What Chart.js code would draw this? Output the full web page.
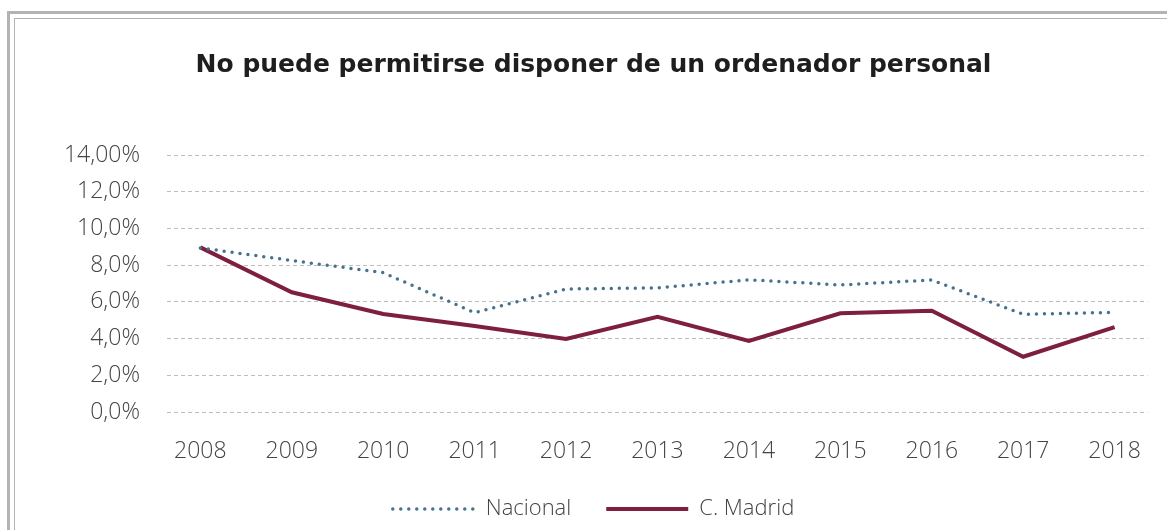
<!DOCTYPE html>
<html>
<head>
<meta charset="utf-8">
<script src="https://cdn.jsdelivr.net/npm/chart.js@4"></script>
<style>
  html, body { margin: 0; padding: 0; background: #fff; }
  #wrap { position: relative; width: 1167px; height: 530px; overflow: hidden; }
  #wrap canvas { position: absolute; left: 0; top: 0; }
  .frame-outer {
    position: absolute; left: 7px; top: 11px; width: 1300px; height: 700px;
    border-top: 3px solid #b3b3b3; border-left: 3px solid #b3b3b3;
  }
  .frame-inner {
    position: absolute; left: 14px; top: 18px; width: 1300px; height: 700px;
    border-top: 1px solid #b3b3b3; border-left: 1px solid #b3b3b3;
  }
</style>
</head>
<body>
<div id="wrap">
  <div class="frame-outer"></div>
  <div class="frame-inner"></div>
  <canvas id="chart" width="1167" height="530"></canvas>
</div>
<script>
const years = [2008, 2009, 2010, 2011, 2012, 2013, 2014, 2015, 2016, 2017, 2018];
const nacional = [8.94, 8.25, 7.59, 5.41, 6.70, 6.76, 7.20, 6.92, 7.19, 5.32, 5.43];
const madrid = [8.97, 6.52, 5.34, 4.69, 3.98, 5.18, 3.87, 5.38, 5.52, 3.01, 4.62];
const yTicks = [0, 2, 4, 6, 8, 10, 12, 14];
const yTickLabels = ["0,0%", "2,0%", "4,0%", "6,0%", "8,0%", "10,0%", "12,0%", "14,00%"];

const LIGHT = "'Open Sans', sans-serif";

new Chart(document.getElementById("chart"), {
  type: "line",
  data: {
    datasets: [
      {
        label: "Nacional",
        data: years.map((y, i) => ({ x: y, y: nacional[i] })),
        borderColor: "#46728c",
        borderWidth: 3.5,
        borderDash: [0, 8],
        borderCapStyle: "round",
        pointRadius: 0,
        tension: 0,
      },
      {
        label: "C. Madrid",
        data: years.map((y, i) => ({ x: y, y: madrid[i] })),
        borderColor: "#7e1f42",
        borderWidth: 4,
        borderCapStyle: "butt",
        pointRadius: 0,
        tension: 0,
      },
    ],
  },
  options: {
    responsive: false,
    animation: false,
    layout: { padding: { left: 24, right: 4, top: 0, bottom: 0 } },
    plugins: {
      title: {
        display: true,
        text: "No puede permitirse disponer de un ordenador personal",
        color: "#1e1e1e",
        font: { family: "'DejaVu Sans', sans-serif", size: 25, weight: "bold" },
        padding: { top: 50, bottom: 75 },
      },
      legend: {
        position: "bottom",
        labels: {
          color: "#444",
          font: { family: LIGHT, size: 22, weight: "300" },
          usePointStyle: true,
          pointStyle: "line",
          pointStyleWidth: 82,
          padding: 35,
          generateLabels: (chart) => {
            const items = Chart.defaults.plugins.legend.labels.generateLabels(chart);
            items.forEach((it) => {
              const ds = chart.data.datasets[it.datasetIndex];
              it.lineDash = ds.borderDash || [];
              it.lineCap = ds.borderCapStyle;
              it.lineWidth = ds.borderWidth;
              it.strokeStyle = ds.borderColor;
            });
            return items;
          },
        },
      },
      tooltip: { enabled: false },
    },
    scales: {
      x: {
        type: "linear",
        min: 2007.635,
        max: 2018.36,
        afterBuildTicks: (s) => { s.ticks = years.map((v) => ({ value: v })); },
        afterFit: (s) => { s.height = 51; },
        grid: { display: false, drawTicks: false },
        border: { display: false },
        ticks: {
          padding: 26,
          color: "#444",
          font: { family: LIGHT, size: 23, weight: "300" },
          callback: (v) => String(v),
        },
      },
      y: {
        min: 0,
        max: 14,
        afterBuildTicks: (s) => { s.ticks = yTicks.map((v) => ({ value: v })); },
        afterFit: (s) => { s.width = 143; },
        grid: { color: "#bdbdbd", lineWidth: 1, drawTicks: false },
        border: { display: false, dash: [4, 3] },
        ticks: {
          padding: 27,
          color: "#444",
          font: { family: LIGHT, size: 23, weight: "300" },
          callback: (v) => yTickLabels[yTicks.indexOf(v)],
        },
      },
    },
  },
});
</script>
</body>
</html>
